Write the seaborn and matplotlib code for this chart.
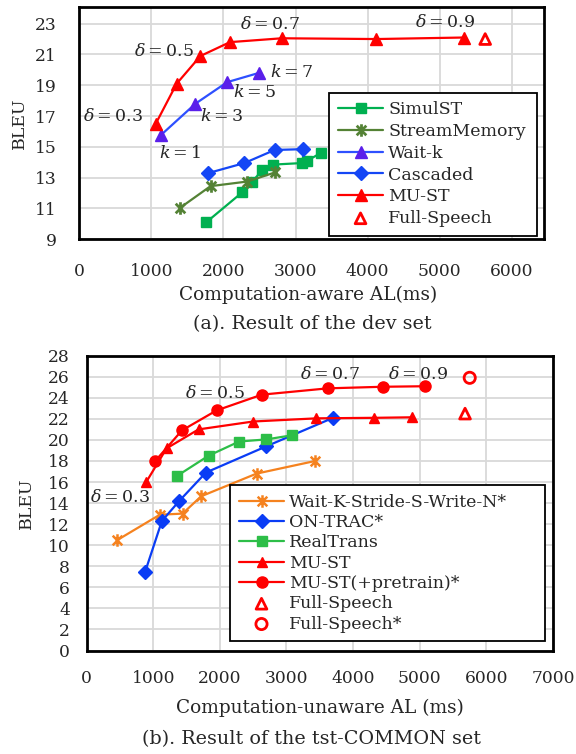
import matplotlib
matplotlib.use('Agg')
import matplotlib.pyplot as plt
import seaborn as sns
from matplotlib.path import Path

# %% data - (a) dev set
simulst_x = [1760, 2260, 2400, 2540, 2690, 3090, 3160, 3350]
simulst_y = [10.1, 12.05, 12.75, 13.5, 13.85, 13.95, 14.1, 14.6]
stream_x = [1400, 1820, 2330, 2720]
stream_y = [11.05, 12.45, 12.75, 13.35]
waitk_x = [1140, 1610, 2050, 2490]
waitk_y = [15.8, 17.8, 19.2, 19.8]
cascaded_x = [1790, 2290, 2710, 3100]
cascaded_y = [13.3, 13.95, 14.8, 14.85]
must_dev_x = [1060, 1350, 1680, 2090, 2810, 4120, 5340]
must_dev_y = [16.5, 19.1, 20.9, 21.8, 22.05, 22.0, 22.1]
full_dev_x = [5630]
full_dev_y = [22.0]

# %% data - (b) tst-COMMON
wks_x = [450, 1100, 1440, 1720, 2550, 3430]
wks_y = [10.45, 12.9, 13.0, 14.65, 16.8, 18.0]
ontrac_x = [880, 1130, 1390, 1790, 2700, 3700]
ontrac_y = [7.5, 12.3, 14.2, 16.9, 19.4, 22.1]
realtrans_x = [1350, 1830, 2290, 2700, 3090]
realtrans_y = [16.55, 18.5, 19.85, 20.05, 20.45]
must_x = [895, 1200, 1680, 2500, 3450, 4320, 4890]
must_y = [16.0, 19.2, 21.0, 21.75, 22.05, 22.1, 22.15]
pre_x = [1030, 1430, 1950, 2630, 3620, 4450, 5080]
pre_y = [18.0, 20.9, 22.8, 24.3, 24.9, 25.05, 25.1]
full_x = [5680]
full_y = [22.5]
fullpre_x = [5750]
fullpre_y = [25.9]

# annotation texts (and where they sit, in data coords)
dev_notes = [r'$\delta = 0.3$', r'$\delta = 0.5$', r'$\delta = 0.7$', r'$\delta = 0.9$',
             r'$k = 1$', r'$k = 3$', r'$k = 5$', r'$k = 7$']
dev_note_pos = [(470, 16.95), (1177, 21.2), (2650, 22.95), (5080, 23.1),
                (1395, 14.55), (1970, 16.98), (2427, 18.5), (2940, 19.85)]
tst_notes = [r'$\delta = 0.3$', r'$\delta = 0.5$', r'$\delta = 0.7$', r'$\delta = 0.9$']
tst_note_pos = [(500, 14.5), (1924, 24.4), (3650, 26.17), (4970, 26.17)]

# %% style
sns.set_style('white')
plt.rcParams['font.family'] = ['DejaVu Serif']
plt.rcParams['mathtext.fontset'] = 'dejavuserif'
plt.rcParams['font.size'] = 12

# excel-like star: X plus a vertical bar
star = Path([(-1, -1), (1, 1), (-1, 1), (1, -1), (0, -1.3), (0, 1.3)],
            [Path.MOVETO, Path.LINETO, Path.MOVETO, Path.LINETO, Path.MOVETO, Path.LINETO])


def line(ax, x, y, label, color, marker, ms, mcolor=None, mew=1.0):
    mc = mcolor or color
    sns.lineplot(x=x, y=y, ax=ax, color=color, marker=marker, markersize=ms,
                 markerfacecolor=mc, markeredgecolor=mc, markeredgewidth=mew,
                 linewidth=1.6, label=label, sort=False, estimator=None)


def hollow(ax, x, y, label, marker, size):
    sns.scatterplot(x=x, y=y, ax=ax, marker=marker, s=size, color='red',
                    facecolor='none', edgecolor='red', linewidth=2, label=label, zorder=5)


def frame(ax, xmax, ylo, yhi, yticks, xticks):
    ax.set_xlim(0, xmax)
    ax.set_ylim(ylo, yhi)
    ax.set_xticks(xticks)
    ax.set_yticks(yticks)
    ax.grid(True, color='#D9D9D9', linewidth=1.3)
    ax.set_axisbelow(True)
    for s in ax.spines.values():
        s.set_visible(True)
        s.set_color('black')
        s.set_linewidth(2)
    ax.set_xlabel('')
    ax.set_ylabel('')


def legend(ax, left, top, width, spacing):
    leg = ax.legend(loc='upper left', bbox_to_anchor=(left, top - 0.5, width, 0.5),
                    mode='expand', fontsize=12.5,
                    frameon=True, fancybox=False, framealpha=1, edgecolor='black',
                    handlelength=2.6, handletextpad=0.3, labelspacing=spacing,
                    borderpad=0.5, borderaxespad=0, scatterpoints=1)
    leg.get_frame().set_linewidth(1.3)


fig = plt.figure(figsize=(5.76, 7.54), dpi=100)
W, H = 576, 754

# %% (a)
ax1 = fig.add_axes([79.3 / W, 1 - 239.3 / H, 465 / W, 232.6 / H])
line(ax1, simulst_x, simulst_y, 'SimulST', '#00B050', 's', 6.5)
line(ax1, stream_x, stream_y, 'StreamMemory', '#548235', star, 9, mew=2)
line(ax1, waitk_x, waitk_y, 'Wait-k', '#2E50FF', '^', 8.5, mcolor='#5A1FEA')
line(ax1, cascaded_x, cascaded_y, 'Cascaded', '#1446F5', 'D', 7)
line(ax1, must_dev_x, must_dev_y, 'MU-ST', '#FF0000', '^', 8)
hollow(ax1, full_dev_x, full_dev_y, 'Full-Speech', '^', 60)
frame(ax1, 6450, 9, 24.1, range(9, 24, 2), range(0, 6001, 1000))
ax1.tick_params(axis='both', length=0, labelsize=12.3)
ax1.tick_params(axis='x', pad=17)
ax1.tick_params(axis='y', pad=16)
for t, (px, py) in zip(dev_notes, dev_note_pos):
    ax1.text(px, py, t, ha='center', va='center', fontsize=12.5)
legend(ax1, 0.5376, 0.630, 0.447, 0.27)

# %% (b)
ax2 = fig.add_axes([86.6 / W, 1 - 650.5 / H, 466.4 / W, 294.8 / H])
line(ax2, wks_x, wks_y, 'Wait-K-Stride-S-Write-N*', '#F5821F', star, 9, mew=1.8)
line(ax2, ontrac_x, ontrac_y, 'ON-TRAC*', '#0A3CF5', 'D', 7)
line(ax2, realtrans_x, realtrans_y, 'RealTrans', '#2DBE48', 's', 7)
line(ax2, must_x, must_y, 'MU-ST', '#FF0000', '^', 7.5)
line(ax2, pre_x, pre_y, 'MU-ST(+pretrain)*', '#FF0000', 'o', 8)
hollow(ax2, full_x, full_y, 'Full-Speech', '^', 60)
hollow(ax2, fullpre_x, fullpre_y, 'Full-Speech*', 'o', 65)
frame(ax2, 7000, 0, 28, range(0, 29, 2), range(0, 7001, 1000))
ax2.tick_params(axis='both', length=0, labelsize=12.3)
ax2.tick_params(axis='x', pad=14)
ax2.tick_params(axis='y', pad=12)
for t, (px, py) in zip(tst_notes, tst_note_pos):
    ax2.text(px, py, t, ha='center', va='center', fontsize=12.5)
legend(ax2, 0.308, 0.561, 0.6745, 0.19)

# %% labels
fig.text(19 / W, 1 - 123 / H, 'BLEU', rotation=90, ha='center', va='center', fontsize=12.5)
fig.text(26.5 / W, 1 - 503 / H, 'BLEU', rotation=90, ha='center', va='center', fontsize=12.5)
fig.text(308 / W, 1 - 295 / H, 'Computation-aware AL(ms)', ha='center', va='center', fontsize=13.3)
fig.text(312 / W, 1 - 324 / H, '(a). Result of the dev set', ha='center', va='center', fontsize=13.8)
fig.text(320 / W, 1 - 708.3 / H, 'Computation-unaware AL (ms)', ha='center', va='center', fontsize=13.3)
fig.text(311 / W, 1 - 739 / H, '(b). Result of the tst-COMMON set', ha='center', va='center', fontsize=13.8)

fig.savefig('out.png', dpi=100)
